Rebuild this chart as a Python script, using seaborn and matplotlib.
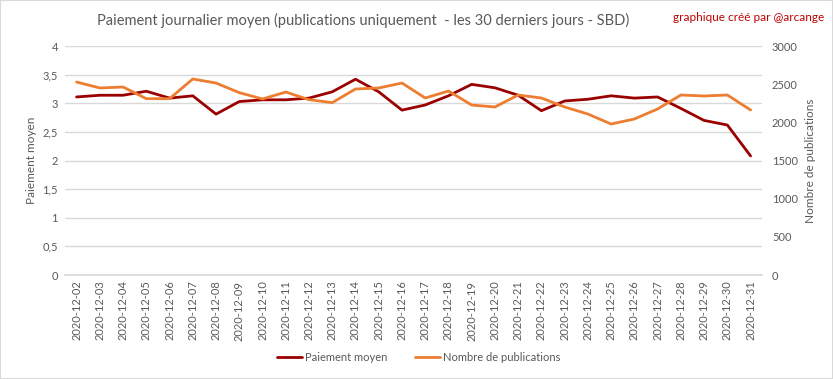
import matplotlib
matplotlib.use("Agg")
import matplotlib.pyplot as plt
import matplotlib.ticker as mticker
import seaborn as sns
import pandas as pd
from matplotlib.patches import Rectangle
from matplotlib.lines import Line2D

dates = ["2020-12-%02d" % d for d in range(2, 32)]
paiement = [3.11, 3.14, 3.14, 3.21, 3.09, 3.13, 2.81, 3.03, 3.06, 3.06,
            3.09, 3.20, 3.42, 3.20, 2.88, 2.97, 3.13, 3.33, 3.27, 3.14,
            2.87, 3.04, 3.07, 3.13, 3.09, 3.11, 2.91, 2.70, 2.62, 2.08]
publications = [2528, 2450, 2463, 2310, 2310, 2568, 2515, 2389, 2306, 2397,
                2297, 2258, 2437, 2450, 2515, 2319, 2410, 2227, 2201, 2358,
                2319, 2201, 2109, 1978, 2044, 2175, 2358, 2345, 2358, 2162]

df = pd.DataFrame({"date": dates, "idx": range(len(dates)),
                   "paiement": paiement, "publications": publications})

sns.set_theme(style="white")
plt.rcParams['font.family'] = ['Lato', 'DejaVu Sans']

gray = "#595959"
c1 = "#9B0000"
c2 = "#ED7D31"

fig = plt.figure(figsize=(8.33, 3.79), dpi=100)
ax = fig.add_axes([0.078, 0.2744, 0.837, 0.6042])
ax2 = ax.twinx()

sns.lineplot(data=df, x="idx", y="paiement", ax=ax, color=c1, linewidth=2, zorder=3)
sns.lineplot(data=df, x="idx", y="publications", ax=ax2, color=c2, linewidth=2, zorder=3)

ax.set_xlim(-0.5, len(dates) - 0.5)
ax.set_ylim(0, 4)
ax2.set_ylim(0, 3000)
ax.set_yticks([i * 0.5 for i in range(9)])
ax.yaxis.set_major_formatter(mticker.FuncFormatter(
    lambda v, p: ("%g" % v).replace(".", ",")))
ax2.set_yticks(range(0, 3001, 500))

ax.set_xticks(range(len(dates)))
ax.set_xticklabels(dates, rotation=90, fontsize=8, color=gray)
ax.tick_params(axis="y", labelsize=8, labelcolor=gray, length=0, pad=5)
ax2.tick_params(axis="y", labelsize=8, labelcolor=gray, length=0, pad=7)
ax.tick_params(axis="x", length=0, pad=4)

ax.grid(axis="y", color="#D9D9D9", linewidth=1)
ax.set_axisbelow(True)
for a in (ax, ax2):
    for s in a.spines.values():
        s.set_visible(False)
ax.spines["bottom"].set_visible(True)
ax.spines["bottom"].set_color("#D9D9D9")

ax.set_xlabel("")
ax.set_ylabel("Paiement moyen", fontsize=8.5, color=gray, labelpad=4)
ax2.set_ylabel("Nombre de publications", fontsize=8.5, color=gray, labelpad=5)

fig.text(0.436, 0.945, "Paiement journalier moyen (publications uniquement  - les 30 derniers jours - SBD)",
         ha="center", va="center", fontsize=10.5, color=gray)
fig.text(0.99, 0.955, "graphique créé par @arcange", ha="right", va="center",
         fontsize=8.5, color="#C00000")

handles = [Line2D([], [], color=c1, linewidth=2), Line2D([], [], color=c2, linewidth=2)]
fig.legend(handles, ["Paiement moyen", "Nombre de publications"], loc="center",
           bbox_to_anchor=(0.503, 0.058), ncol=2, frameon=False, fontsize=8,
           labelcolor=gray, handlelength=2.2, columnspacing=2.5, handletextpad=0.3)

fig.patches.append(Rectangle((0, 0), 1, 1, transform=fig.transFigure, fill=False,
                             edgecolor="#D9D9D9", linewidth=1.5))
fig.savefig("out.png", dpi=100, facecolor="white")
